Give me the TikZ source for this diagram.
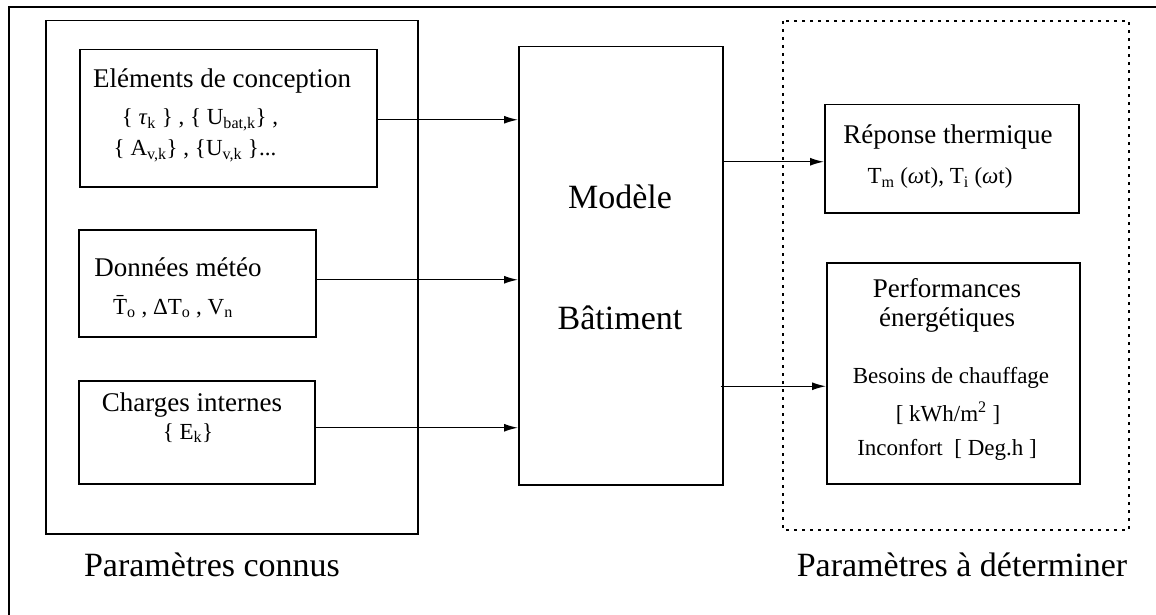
\documentclass[tikz,border=0pt]{standalone}
\usepackage{fontspec}
\setmainfont{Liberation Serif}
\usetikzlibrary{arrows.meta,calc}
\newcommand{\fsz}[1]{\fontsize{#1}{#1}\selectfont}
\begin{document}
\begin{tikzpicture}[x=1pt,y=-1pt,
  box/.style={draw, line width=1.5pt, anchor=north west, inner sep=0pt},
  arr/.style={line width=1.4pt, -{Latex[length=14pt,width=8pt]}},
  big/.style={font=\fsz{34}, inner sep=0pt},
  ttl/.style={font=\fsz{27}, inner sep=0pt},
  sub/.style={font=\fsz{23}, inner sep=0pt},
  dots/.style={line width=2.6pt, dash pattern=on 2.6pt off 5.4pt}
]
\useasboundingbox (0,0) rectangle (1156,615);
% outer frame (top and left edges visible)
\coordinate (fr) at (9,7);
\draw[line width=2.8pt] (fr -| 1156,0) -- (fr) -- (fr |- 0,615);
% known parameters frame
\node[box, minimum width=372pt, minimum height=513pt] (known) at (45,20) {};
% design elements
\node[box, minimum width=297pt, minimum height=137pt] (elem) at (79,49) {};
\node[ttl] (elemt) at (222,81) {Eléments de conception};
\node[sub] (eleml2) at (200,120) {\{ \textit{τ}\textsubscript{k} \} , \{ U\textsubscript{bat,k}\} ,};
\node[sub] (eleml3) at (195,151) {\{ A\textsubscript{v,k}\} , \{U\textsubscript{v,k} \}...};
% weather data
\node[box, minimum width=237pt, minimum height=107pt] (meteo) at (78,229) {};
\node[ttl] (meteot) at (178,267) {Données météo};
\node[sub] (meteol2) at (173,307) {\={T}\textsubscript{o} , ΔT\textsubscript{o} , V\textsubscript{n}};
% internal loads
\node[box, minimum width=236pt, minimum height=103pt] (charges) at (78,380) {};
\node[ttl] (chargest) at (192,405) {Charges internes};
\node[sub] (chargesl2) at (188,433) {\{ E\textsubscript{k}\}};
% model
\node[box, minimum width=204pt, minimum height=438pt] (model) at (518,46) {};
\node[big] (modt1) at (620,197) {Modèle};
\node[big] (modt2) at (620,318) {Bâtiment};
% parameters to determine (dotted)
\draw[dots] (783,21) rectangle (1129,530);
% thermal response
\node[box, minimum width=254pt, minimum height=108pt] (rep) at (824,104) {};
\node[ttl] (rept) at (948,137) {Réponse thermique};
\node[sub] (repl2) at (940,178) {T\textsubscript{m} (\textit{ω}t), T\textsubscript{i} (\textit{ω}t)};
% energy performance
\node[box, minimum width=253pt, minimum height=221pt] (perf) at (826,262) {};
\node[ttl] (perft1) at (947,288) {Performances};
\node[ttl] (perft2) at (947,320) {énergétiques};
\node[sub] (perfl3) at (951,378) {Besoins de chauffage};
\node[sub] (perfl4) at (948,413) {[ kWh/m\textsuperscript{2} ]};
\node[sub] (perfl5) at (947,450) {Inconfort~~[ Deg.h ]};
% captions
\node[big] (capl) at (212,565) {Paramètres connus};
\node[big] (capr) at (962,565) {Paramètres à déterminer};
% arrows
\draw[arr] ([yshift=-1.5pt]elem.east) -- ([yshift=-1.5pt]elem.east -| model.west);
\draw[arr] ([yshift=3.5pt]meteo.east) -- ([yshift=3.5pt]meteo.east -| model.west);
\draw[arr] ([yshift=4.5pt]charges.east) -- ([yshift=4.5pt]charges.east -| model.west);
\draw[arr] ([yshift=-3pt]rep.west -| model.east) -- ([yshift=-3pt]rep.west);
\draw[arr] ([yshift=-13pt,xshift=-3pt]perf.west -| model.east) -- ([yshift=-13pt]perf.west);
\end{tikzpicture}
\end{document}
